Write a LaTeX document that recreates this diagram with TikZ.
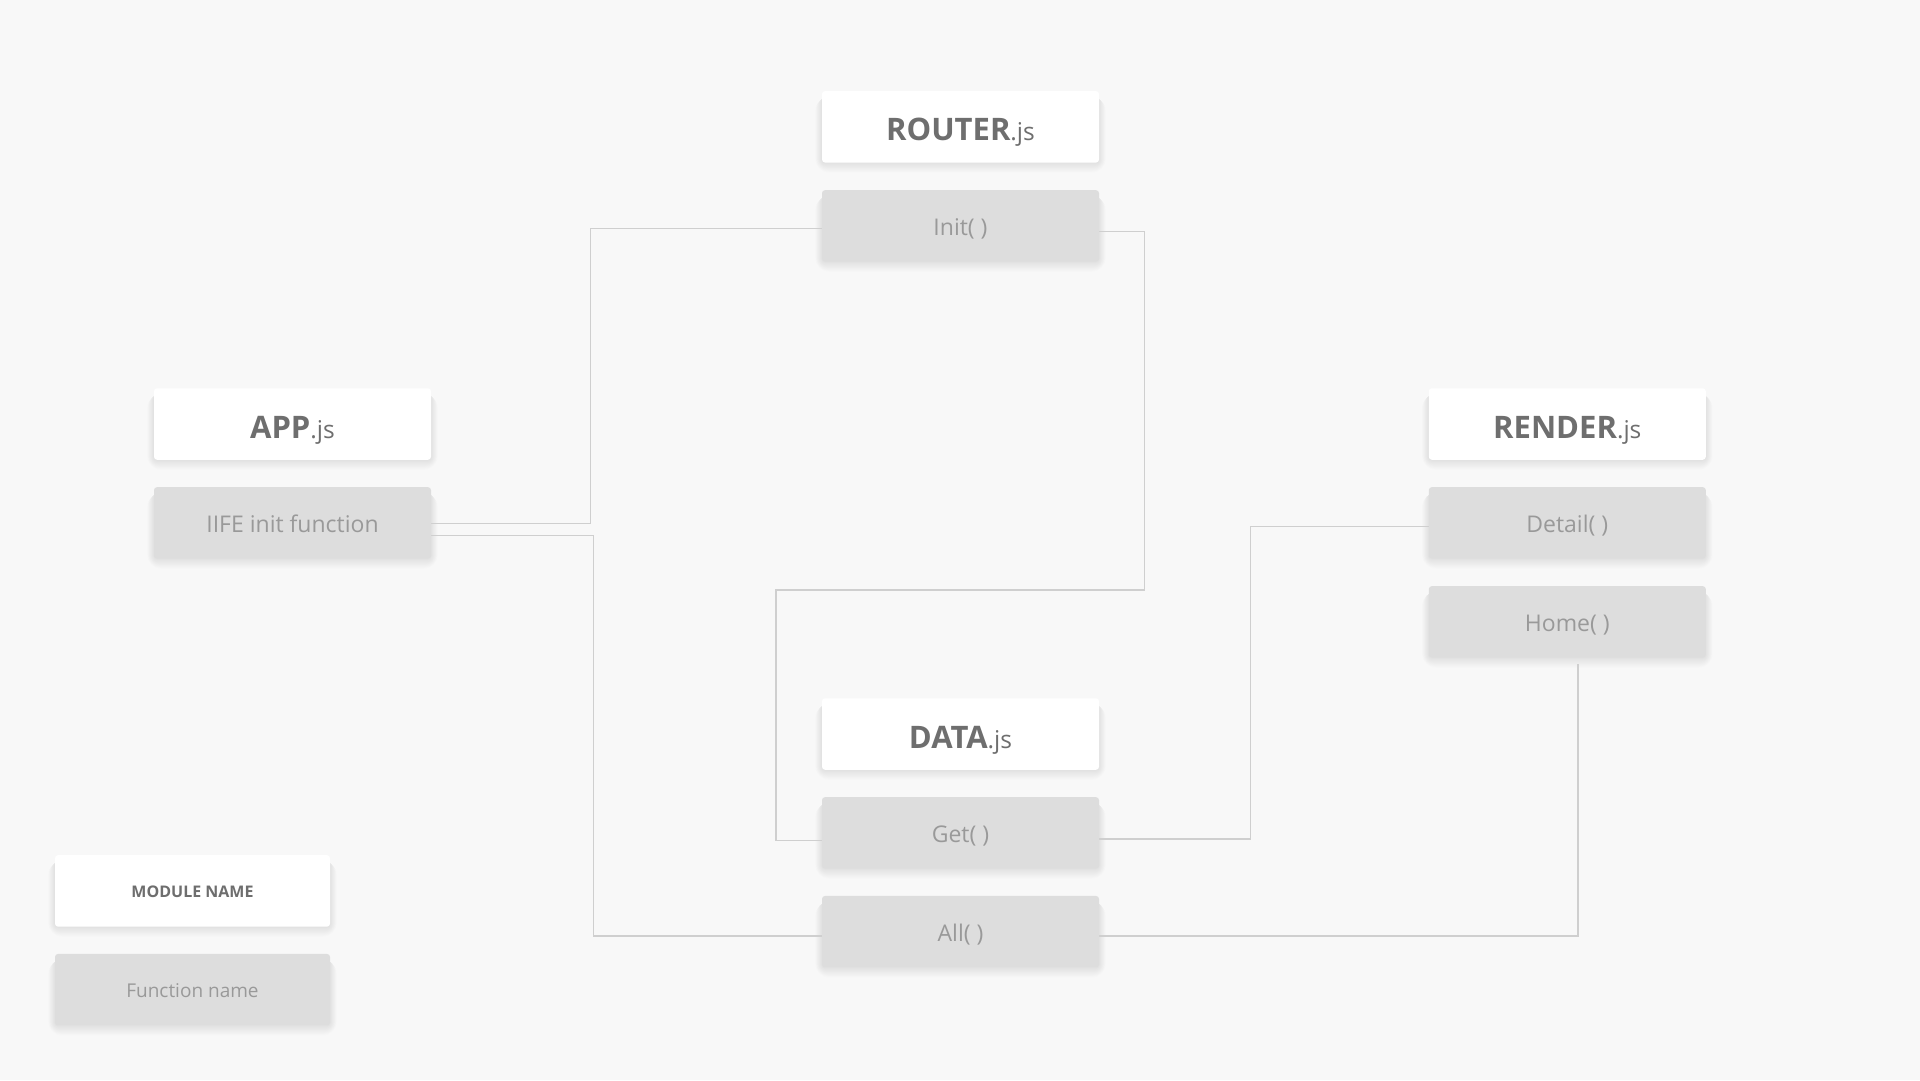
\documentclass[tikz,border=0pt]{standalone}
\usepackage{fontspec}
\setmainfont{Open Sans}
\definecolor{bg}{HTML}{F8F8F8}
\definecolor{titletxt}{HTML}{6E6E6E}
\definecolor{funfill}{HTML}{DDDDDD}
\definecolor{funtxt}{HTML}{999999}
\definecolor{wire}{HTML}{CFCFCF}
\pgfdeclarelayer{bglayer}
\pgfdeclarelayer{shadowlayer}
\pgfsetlayers{bglayer,shadowlayer,main}
\tikzset{
  card/.style={minimum width=277pt, minimum height=71.5pt, inner sep=0pt, rounded corners=3pt},
  modbox/.style={card, fill=white, text=titletxt, text height=28pt, text depth=0pt},
  funbox/.style={card, fill=funfill, text=funtxt, text height=20pt, text depth=0pt,
    font=\fontsize{23}{27}\selectfont},
  legmod/.style={card, minimum width=275pt, fill=white, text=titletxt, text height=13pt, text depth=0pt,
    font=\fontsize{16}{19}\selectfont\bfseries},
  legfun/.style={card, minimum width=275pt, fill=funfill, text=funtxt, text height=16.5pt, text depth=0pt,
    font=\fontsize{19}{22}\selectfont},
  wireline/.style={draw=wire, line width=1.5pt},
  shadowpiece/.style={fill=black, fill opacity=0.008, draw=none}
}
\newcommand{\modtitle}[1]{{\fontsize{31}{36}\selectfont\bfseries #1}{\fontsize{24.5}{28}\selectfont .js}}
\begin{document}
\begin{tikzpicture}[x=1pt, y=-1pt]
\begin{pgfonlayer}{bglayer}
\fill[bg] (0,0) rectangle (1920,1080);
\end{pgfonlayer}
\useasboundingbox (0,0) rectangle (1920,1080);

% bend coordinates
\coordinate (b1) at (590.6,0);
\coordinate (b2) at (593.3,0);
\coordinate (b3) at (1144.4,0);
\coordinate (b4) at (776.2,590);
\coordinate (b5) at (1250.4,0);
\coordinate (b6) at (1578.2,0);

\coordinate (iifeA) at (431,523.3);
\coordinate (iifeB) at (425,535.7);
\coordinate (initL) at (822,228.3);
\coordinate (initR) at (1099,231.7);
\coordinate (getL) at (822,840.3);
\coordinate (getR) at (1099,839);
\coordinate (allL) at (822,936);
\coordinate (allR) at (1099,936);
\coordinate (detailL) at (1429,526.3);
\coordinate (homeB) at (1578.2,664);

\node[modbox] (router) at (960.5,126.8) {\modtitle{ROUTER}};
\node[funbox] (init) at (960.5,225.9) {Init( )};

\node[modbox] (app) at (292.5,424) {\modtitle{APP}};
\node[funbox] (iife) at (292.5,522.9) {IIFE init function};

\node[modbox] (render) at (1567.3,424) {\modtitle{RENDER}};
\node[funbox] (detail) at (1567.3,522.9) {Detail( )};
\node[funbox] (home) at (1567.3,621.9) {Home( )};

\node[modbox] (data) at (960.5,734) {\modtitle{DATA}};
\node[funbox] (get) at (960.5,832.9) {Get( )};
\node[funbox] (all) at (960.5,931.7) {All( )};

\node[legmod] (legm) at (192.5,890.9) {MODULE NAME};
\node[legfun] (legf) at (192.5,989.7) {Function name};

\begin{pgfonlayer}{shadowlayer}
\foreach \n in {router,init,app,iife,render,detail,home,data,get,all,legm,legf}{
  \foreach \k in {1,2,...,11}{
    \fill[shadowpiece, rounded corners=\k pt+3pt]
      ([xshift=-\k pt*0.6, yshift=-\k pt*0.9]\n.south west) rectangle
      ([xshift=\k pt*0.6, yshift=-6pt]\n.north east);
  }
}
\draw[wireline] (iifeA) -- (iifeA -| b1) -- (initL -| b1) -- (initL);
\draw[wireline] (iifeB) -- (iifeB -| b2) -- (allL -| b2) -- (allL);
\draw[wireline] (initR) -- (initR -| b3) -- (b4 -| b3) -- (b4) -- (getL -| b4) -- (getL);
\draw[wireline] (getR) -- (getR -| b5) -- (detailL -| b5) -- (detailL);
\draw[wireline] (allR) -- (allR -| b6) -- (homeB);
\end{pgfonlayer}
\end{tikzpicture}
\end{document}
